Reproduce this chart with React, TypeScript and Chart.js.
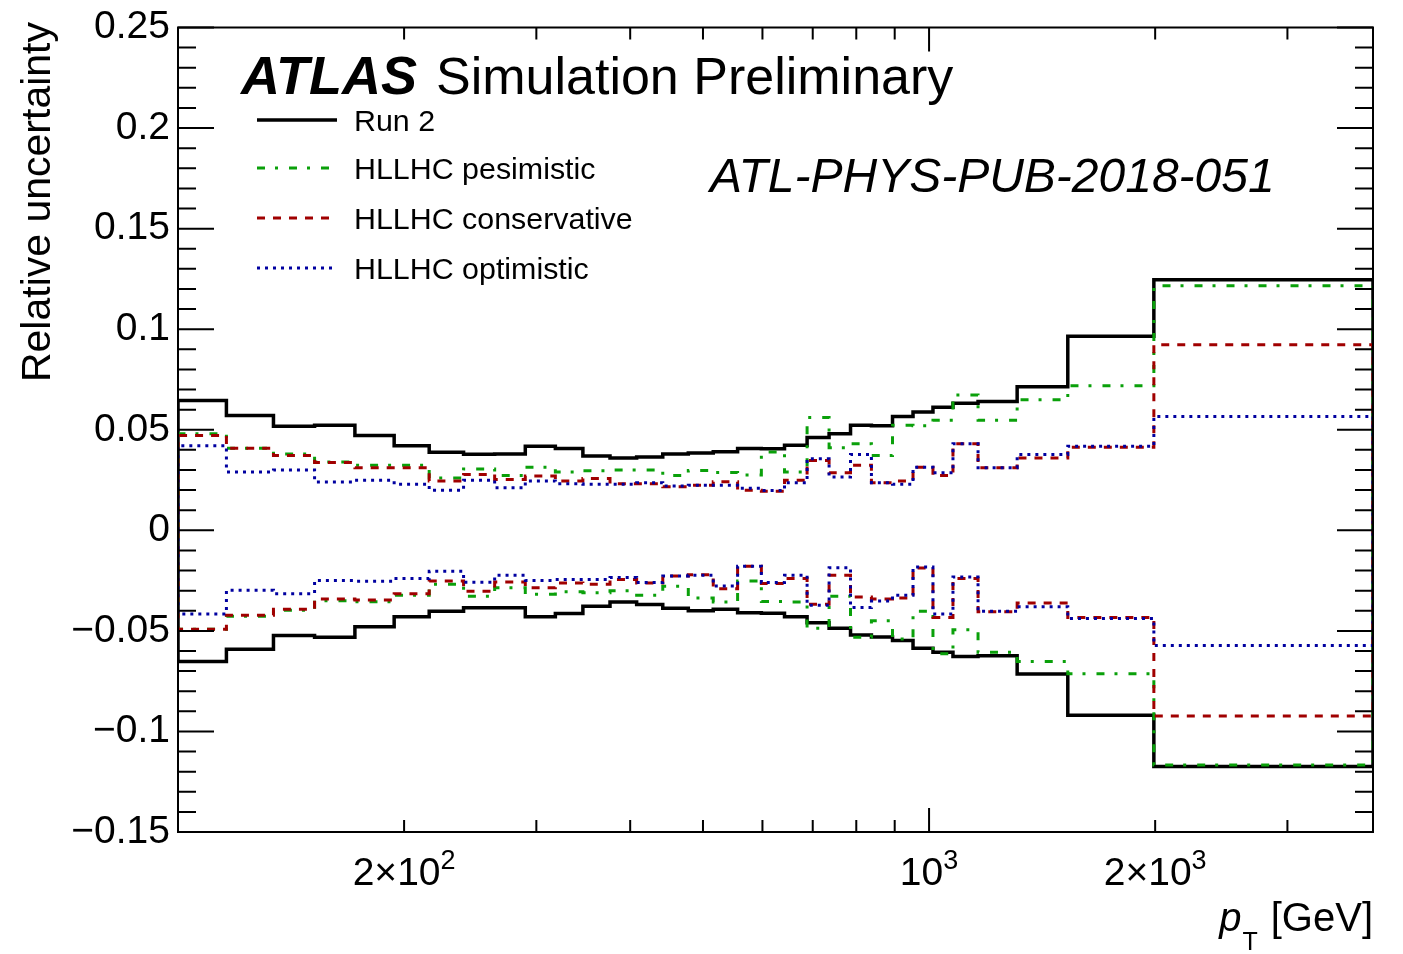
import React, { useEffect, useRef } from 'react';
import { Chart, registerables } from 'chart.js';

Chart.register(...registerables);

// Bin edges in pT [GeV]
const binEdges = [100, 116, 134, 152, 172, 194, 216, 240, 264, 290, 318, 346, 376, 408, 442, 478, 516, 556, 598, 642, 688, 736, 786, 838, 894, 952, 1012, 1076, 1162, 1310, 1530, 1992, 3900];

// Run 2
const run2Up = [0.0645, 0.0571, 0.0517, 0.0522, 0.0471, 0.0421, 0.0388, 0.0378, 0.038, 0.0418, 0.0407, 0.0369, 0.036, 0.0364, 0.038, 0.0385, 0.039, 0.0407, 0.0405, 0.0423, 0.0462, 0.048, 0.0522, 0.052, 0.0566, 0.0588, 0.0612, 0.0632, 0.064, 0.0714, 0.0965, 0.1246];
const run2Down = [-0.0652, -0.0591, -0.0523, -0.0532, -0.0479, -0.043, -0.0402, -0.0385, -0.0385, -0.043, -0.0413, -0.0377, -0.0356, -0.0369, -0.0388, -0.04, -0.0393, -0.041, -0.0412, -0.043, -0.0459, -0.0487, -0.052, -0.053, -0.0548, -0.0586, -0.0606, -0.0627, -0.0624, -0.0714, -0.092, -0.1174];

// HLLHC pesimistic
const pessUp = [0.048, 0.0408, 0.0379, 0.034, 0.0324, 0.0324, 0.026, 0.0305, 0.0273, 0.0314, 0.029, 0.0296, 0.03, 0.03, 0.0273, 0.0298, 0.0288, 0.0275, 0.0389, 0.029, 0.0561, 0.041, 0.0431, 0.0372, 0.0522, 0.052, 0.0547, 0.0673, 0.0547, 0.0649, 0.0719, 0.1216];
const pessDown = [-0.0492, -0.0427, -0.0397, -0.035, -0.0355, -0.0323, -0.0268, -0.0328, -0.0286, -0.0318, -0.0306, -0.0311, -0.0301, -0.0323, -0.0278, -0.0336, -0.0356, -0.0252, -0.0354, -0.0356, -0.0487, -0.0328, -0.0532, -0.045, -0.054, -0.0402, -0.0614, -0.0495, -0.0606, -0.0652, -0.0713, -0.1167];

// HLLHC conservative
const consUp = [0.0472, 0.0408, 0.0372, 0.0337, 0.0311, 0.0311, 0.0245, 0.0278, 0.0253, 0.027, 0.0245, 0.0257, 0.0232, 0.0232, 0.0216, 0.0224, 0.0242, 0.0199, 0.0194, 0.0249, 0.0347, 0.0286, 0.0324, 0.0237, 0.0245, 0.0313, 0.0272, 0.043, 0.0311, 0.036, 0.0413, 0.0923];
const consDown = [-0.0492, -0.0422, -0.0392, -0.0342, -0.0347, -0.0315, -0.0252, -0.0303, -0.0257, -0.0285, -0.0262, -0.0268, -0.0244, -0.0262, -0.0227, -0.0221, -0.029, -0.0179, -0.0265, -0.024, -0.0367, -0.0224, -0.0331, -0.0342, -0.0336, -0.0188, -0.0433, -0.024, -0.0405, -0.0362, -0.0433, -0.0923];

// HLLHC optimistic
const optUp = [0.0421, 0.029, 0.03, 0.024, 0.0249, 0.0229, 0.0199, 0.0249, 0.0212, 0.0245, 0.0232, 0.0229, 0.0229, 0.0237, 0.022, 0.0224, 0.0224, 0.0209, 0.0198, 0.0237, 0.0356, 0.0265, 0.0377, 0.0237, 0.0229, 0.0314, 0.0286, 0.043, 0.0311, 0.0377, 0.0418, 0.0566];
const optDown = [-0.0416, -0.0298, -0.0315, -0.0249, -0.0253, -0.024, -0.0204, -0.0258, -0.0224, -0.0249, -0.0245, -0.0245, -0.0235, -0.026, -0.0227, -0.0224, -0.0277, -0.0179, -0.026, -0.0224, -0.0372, -0.0186, -0.0384, -0.0352, -0.0323, -0.0183, -0.0416, -0.0232, -0.0402, -0.038, -0.0438, -0.0573];

const seriesNames = ['Run 2', 'HLLHC pesimistic', 'HLLHC conservative', 'HLLHC optimistic'];
const seriesUp = [run2Up, pessUp, consUp, optUp];
const seriesDown = [run2Down, pessDown, consDown, optDown];
const seriesColors = ['#000000', '#0aa00a', '#a00000', '#0000a0'];
const seriesDashes = [[], [8, 10, 3, 11], [8, 8], [3, 5]];
const seriesWidths = [3.5, 3, 3, 3];

const xMin = 100;
const xMax = 3900;
const yMin = -0.15;
const yMax = 0.25;
const yTickValues = [-0.15, -0.1, -0.05, 0, 0.05, 0.1, 0.15, 0.2, 0.25];
const yTickLabels = ['\u22120.15', '\u22120.1', '\u22120.05', '0', '0.05', '0.1', '0.15', '0.2', '0.25'];
const xTickValues = [200, 1000, 2000];
const xTickBase = ['2\u00d710', '10', '2\u00d710'];
const xTickExp = ['2', '3', '3'];
const xMinorTicks = [300, 400, 500, 600, 700, 800, 900, 3000];
const xMajorTicks = [1000];

const FONT = '"Liberation Sans", Arial, Helvetica, sans-serif';

function histPoints(edges: number[], vals: number[]) {
  const pts: { x: number; y: number }[] = [{ x: edges[0], y: 0 }];
  vals.forEach((v, i) => {
    pts.push({ x: edges[i], y: v });
    pts.push({ x: edges[i + 1], y: v });
  });
  pts.push({ x: edges[edges.length - 1], y: 0 });
  return pts;
}

const decorPlugin = {
  id: 'decor',
  afterDatasetsDraw(chart: any) {
    const { ctx, chartArea: a, scales } = chart;
    const x = scales.x;
    const y = scales.y;
    ctx.save();
    ctx.strokeStyle = '#000';
    ctx.lineWidth = 2;
    ctx.strokeRect(a.left, a.top, a.right - a.left, a.bottom - a.top);
    ctx.beginPath();
    // y ticks (major every 0.05, minor every 0.01)
    for (let k = Math.round(yMin * 100); k <= Math.round(yMax * 100); k++) {
      const py = y.getPixelForValue(k / 100);
      const len = k % 5 === 0 ? 36 : 18;
      ctx.moveTo(a.left, py);
      ctx.lineTo(a.left + len, py);
      ctx.moveTo(a.right, py);
      ctx.lineTo(a.right - len, py);
    }
    const allX = [...xTickValues, ...xMinorTicks];
    allX.forEach((v) => {
      const px = x.getPixelForValue(v);
      const len = xMajorTicks.includes(v) ? 24 : 12;
      ctx.moveTo(px, a.bottom);
      ctx.lineTo(px, a.bottom - len);
      ctx.moveTo(px, a.top);
      ctx.lineTo(px, a.top + len);
    });
    ctx.stroke();
    ctx.restore();
  },
  afterDraw(chart: any) {
    const { ctx, scales } = chart;
    ctx.save();
    ctx.fillStyle = '#000';
    ctx.textBaseline = 'alphabetic';
    ctx.textAlign = 'left';

    // x tick labels with superscripts
    xTickValues.forEach((v, i) => {
      const px = scales.x.getPixelForValue(v);
      ctx.font = `39px ${FONT}`;
      const bw = ctx.measureText(xTickBase[i]).width;
      ctx.font = `27px ${FONT}`;
      const ew = ctx.measureText(xTickExp[i]).width;
      const start = px - (bw + ew) / 2;
      ctx.font = `39px ${FONT}`;
      ctx.fillText(xTickBase[i], start, 885);
      ctx.font = `27px ${FONT}`;
      ctx.fillText(xTickExp[i], start + bw, 869);
    });

    ctx.font = `italic bold 54px ${FONT}`;
    ctx.fillText('ATLAS', 241, 94);
    ctx.font = `52px ${FONT}`;
    ctx.fillText('Simulation Preliminary', 436, 94);
    ctx.font = `italic 48px ${FONT}`;
    ctx.fillText('ATL-PHYS-PUB-2018-051', 710, 192);

    // legend
    const rowY = [120, 168, 218, 268];
    seriesNames.forEach((name, i) => {
      ctx.save();
      ctx.strokeStyle = seriesColors[i];
      ctx.lineWidth = seriesWidths[i];
      ctx.setLineDash(seriesDashes[i]);
      ctx.beginPath();
      ctx.moveTo(257, rowY[i]);
      ctx.lineTo(337, rowY[i]);
      ctx.stroke();
      ctx.restore();
      ctx.font = `30.4px ${FONT}`;
      ctx.fillText(name, 354, rowY[i] + 11);
    });

    // y title
    ctx.save();
    ctx.translate(50, 22);
    ctx.rotate(-Math.PI / 2);
    ctx.textAlign = 'right';
    ctx.font = `41px ${FONT}`;
    ctx.fillText('Relative uncertainty', 0, 0);
    ctx.restore();

    // x title
    ctx.textAlign = 'right';
    ctx.font = `40px ${FONT}`;
    ctx.fillText('[GeV]', 1373, 931);
    const gevW = ctx.measureText('[GeV]').width;
    ctx.font = `25px ${FONT}`;
    const tRight = 1373 - gevW - 13;
    ctx.fillText('T', tRight, 950);
    const tW = ctx.measureText('T').width;
    ctx.font = `italic 40px ${FONT}`;
    ctx.fillText('p', tRight - tW - 1, 931);
    ctx.restore();
  },
};

export default function App() {
  const canvasRef = useRef<HTMLCanvasElement | null>(null);

  useEffect(() => {
    document.body.style.margin = '0';
    const canvas = canvasRef.current;
    if (!canvas) return;

    const datasets: any[] = [];
    seriesNames.forEach((name, i) => {
      const common = {
        borderColor: seriesColors[i],
        borderWidth: seriesWidths[i],
        borderDash: seriesDashes[i],
        pointRadius: 0,
        tension: 0,
        fill: false,
        order: 4 - i,
      };
      datasets.push({ label: name + ' up', data: histPoints(binEdges, seriesUp[i]), ...common });
      datasets.push({ label: name + ' down', data: histPoints(binEdges, seriesDown[i]), ...common });
    });

    const chart = new Chart(canvas, {
      type: 'line',
      data: { datasets },
      options: {
        responsive: false,
        animation: false,
        events: [],
        layout: { padding: { top: 22, right: 30, left: 0, bottom: 0 } },
        plugins: { legend: { display: false }, tooltip: { enabled: false } },
        scales: {
          x: {
            type: 'logarithmic',
            min: xMin,
            max: xMax,
            bounds: 'data',
            grid: { display: false, drawTicks: false },
            border: { display: false },
            afterBuildTicks: (s: any) => {
              s.ticks = xTickValues.map((v) => ({ value: v }));
            },
            afterFit: (s: any) => {
              s.height = 122;
            },
            ticks: {
              autoSkip: false,
              maxRotation: 0,
              minRotation: 0,
              padding: 19,
              color: 'rgba(0,0,0,0)',
              font: { family: FONT, size: 37, lineHeight: 1 },
              callback: () => '',
            },
          },
          y: {
            type: 'linear',
            min: yMin,
            max: yMax,
            grid: { display: false, drawTicks: false },
            border: { display: false },
            afterBuildTicks: (s: any) => {
              s.ticks = yTickValues.map((v) => ({ value: v }));
            },
            afterFit: (s: any) => {
              s.width = 178;
            },
            ticks: {
              autoSkip: false,
              padding: 8,
              color: '#000',
              font: { family: FONT, size: 39, lineHeight: 1 },
              callback: (v: any) => {
                const i = yTickValues.findIndex((t) => Math.abs(t - Number(v)) < 1e-9);
                return i >= 0 ? yTickLabels[i] : '';
              },
            },
          },
        },
      } as any,
      plugins: [decorPlugin],
    });

    return () => {
      chart.destroy();
    };
  }, []);

  return (
    <div style={{ width: 1403, height: 954, background: '#fff' }}>
      <canvas ref={canvasRef} width={1403} height={954} style={{ display: 'block' }} />
    </div>
  );
}
